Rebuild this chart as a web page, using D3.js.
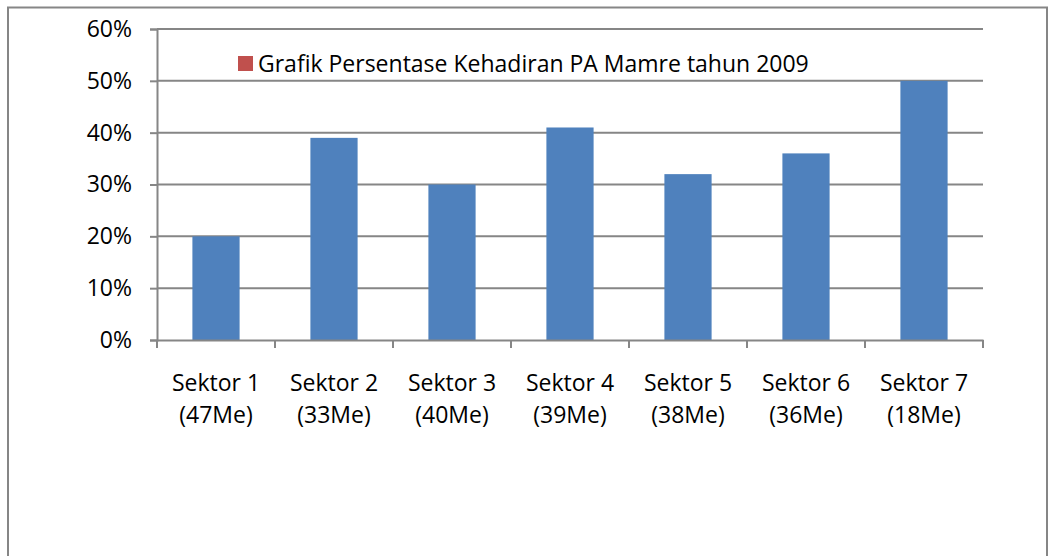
<!DOCTYPE html>
<html><head><meta charset="utf-8">
<script src="https://cdn.jsdelivr.net/npm/d3@7"></script>
<style>
html,body{margin:0;padding:0;background:#fff;}
svg{display:block;font-family:"Open Sans", sans-serif;}
</style></head><body>
<svg id="c" width="1050" height="556"></svg>
<script>
const categories = ["Sektor 1","Sektor 2","Sektor 3","Sektor 4","Sektor 5","Sektor 6","Sektor 7"];
const subLabels = ["(47Me)","(33Me)","(40Me)","(39Me)","(38Me)","(36Me)","(18Me)"];
const values = [0.20,0.39,0.30,0.41,0.32,0.36,0.50];
const yTicks = [0,0.1,0.2,0.3,0.4,0.5,0.6];
const seriesName = "Grafik Persentase Kehadiran PA Mamre tahun 2009";

const FS = 23;
const svg = d3.select("#c");
const gray = "#868686";
// outer border
svg.append("rect").attr("x",8).attr("y",7.5).attr("width",1039).attr("height",560)
  .attr("fill","none").attr("stroke",gray).attr("stroke-width",2);

const x0 = 157, x1 = 983, yTop = 29, yBot = 340;
const x = d3.scaleBand().domain(categories).range([x0,x1]).paddingInner(0.6).paddingOuter(0.3);
const xb = d3.scaleBand().domain(categories).range([x0,x1]);
const y = d3.scaleLinear().domain([0,0.6]).range([yBot,yTop]);

// gridlines
svg.append("g").selectAll("line").data(yTicks.filter(d=>d>0)).join("line")
  .attr("x1",x0).attr("x2",x1).attr("y1",d=>y(d)).attr("y2",d=>y(d))
  .attr("stroke",gray).attr("stroke-width",2);

// bars
svg.append("g").selectAll("rect").data(values).join("rect")
  .attr("x",(d,i)=>x(categories[i])).attr("width",x.bandwidth())
  .attr("y",d=>y(d)).attr("height",d=>yBot-y(d)).attr("fill","#4F81BD");

// y axis
const yAxis = svg.append("g").attr("transform",`translate(${x0},0)`)
  .call(d3.axisLeft(y).tickValues(yTicks).tickFormat(d3.format(".0%")).tickSize(7).tickPadding(18));
yAxis.select(".domain").attr("stroke",gray).attr("stroke-width",2);
yAxis.selectAll(".tick line").attr("stroke",gray).attr("stroke-width",2);
yAxis.selectAll("text").attr("font-size",FS).attr("fill","#000").attr("font-family","Open Sans");

// x axis
const xAxis = svg.append("g").attr("transform",`translate(0,${yBot})`)
  .call(d3.axisBottom(xb).tickSize(0).tickFormat(""));
xAxis.select(".domain").attr("stroke",gray).attr("stroke-width",2);
svg.append("g").selectAll("line").data(d3.range(categories.length+1)).join("line")
  .attr("x1",i=>x0+i*xb.step()).attr("x2",i=>x0+i*xb.step())
  .attr("y1",yBot).attr("y2",yBot+8).attr("stroke",gray).attr("stroke-width",2);

const lbl = svg.append("g").attr("font-size",FS).attr("fill","#000").attr("text-anchor","middle");
lbl.selectAll("text.a").data(categories).join("text").attr("class","a")
  .attr("x",d=>xb(d)+xb.bandwidth()/2).attr("y",391).text(d=>d);
lbl.selectAll("text.b").data(subLabels).join("text").attr("class","b")
  .attr("x",(d,i)=>xb(categories[i])+xb.bandwidth()/2).attr("y",423).text(d=>d);

// legend
const lg = svg.append("g");
lg.append("rect").attr("x",238).attr("y",56).attr("width",15).attr("height",15).attr("fill","#C0504D");
lg.append("text").attr("x",258).attr("y",71.5).attr("font-size",FS).attr("fill","#000").text(seriesName);
</script></body></html>
